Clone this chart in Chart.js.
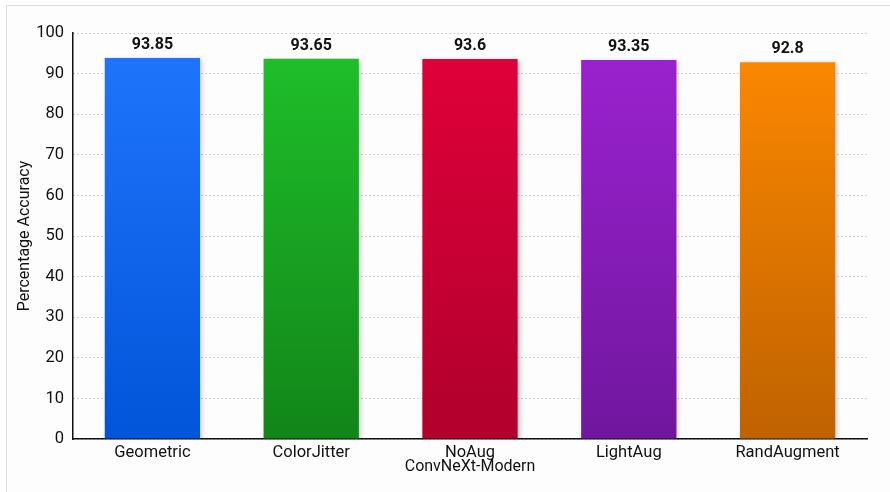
<!DOCTYPE html>
<html>
<head>
<meta charset="utf-8">
<script src="https://cdn.jsdelivr.net/npm/chart.js@4.4.1/dist/chart.umd.min.js"></script>
<style>
    html, body { margin: 0; padding: 0; background: #fff; }
    #wrap { position: relative; width: 890px; height: 492px; }
    #frame {
        position: absolute; left: 6px; top: 5px; right: 0; bottom: 0;
        border-left: 1px solid #dedede; border-top: 1px solid #dedede;
        background: #fdfdfd;
    }
    canvas { position: absolute; left: 0; top: 0; }
</style>
</head>
<body>
<div id="wrap">
    <div id="frame"></div>
    <canvas id="accChart" width="890" height="492"></canvas>
</div>
<script>
const categories = ["Geometric", "ColorJitter", "NoAug", "LightAug", "RandAugment"]
const accuracy = [93.85, 93.65, 93.6, 93.35, 92.8]
const topColors = ["#2176ff", "#1fc22b", "#e2003b", "#9d22d2", "#ff8a00"]
const bottomColors = ["#0055d8", "#128519", "#b0002b", "#70179e", "#bf6200"]
const yTicks = [0, 10, 20, 30, 40, 50, 60, 70, 80, 90, 100]

const fontFamily = "Roboto, 'Noto Sans', sans-serif"

const gradientFill = (context) => {
    const chart = context.chart
    const area = chart.chartArea
    const i = context.dataIndex
    if (!area) return topColors[i]
    const g = chart.ctx.createLinearGradient(0, area.top, 0, area.bottom)
    g.addColorStop(0, topColors[i])
    g.addColorStop(1, bottomColors[i])
    return g
}

// soft shadow behind the bars
const barShadow = {
    id: "barShadow",
    beforeDatasetDraw(chart) {
        const ctx = chart.ctx
        ctx.save()
        ctx.shadowColor = "rgba(0,0,0,0.22)"
        ctx.shadowBlur = 5
        ctx.shadowOffsetX = 2
        ctx.shadowOffsetY = 1
    },
    afterDatasetDraw(chart) {
        chart.ctx.restore()
    }
}

// value labels above each bar
const valueLabels = {
    id: "valueLabels",
    afterDatasetsDraw(chart) {
        const ctx = chart.ctx
        const meta = chart.getDatasetMeta(0)
        ctx.save()
        ctx.font = "bold 16px " + fontFamily
        ctx.fillStyle = "#111"
        ctx.textAlign = "center"
        ctx.textBaseline = "bottom"
        meta.data.forEach((bar, i) => {
            ctx.fillText(String(accuracy[i]), bar.x, bar.y - 5)
        })
        ctx.restore()
    }
}

const ctx = document.getElementById("accChart").getContext("2d")

new Chart(ctx, {
    type: "bar",
    data: {
        labels: categories,
        datasets: [{
            data: accuracy,
            backgroundColor: gradientFill,
            borderWidth: 0,
            barPercentage: 0.6,
            categoryPercentage: 1.0
        }]
    },
    options: {
        responsive: false,
        animation: false,
        layout: { padding: { top: 33, right: 23, left: 0, bottom: 0 } },
        plugins: {
            legend: { display: false },
            tooltip: { enabled: false }
        },
        scales: {
            x: {
                grid: { display: false, drawTicks: false },
                border: { color: "#111", width: 1.5 },
                ticks: {
                    color: "#111",
                    padding: 4,
                    font: { family: fontFamily, size: 16.5 }
                },
                title: {
                    display: true,
                    text: "ConvNeXt-Modern",
                    color: "#111",
                    font: { family: fontFamily, size: 16 },
                    padding: { top: 0, bottom: 15 }
                },
                afterFit(scale) { scale.height = 53 }
            },
            y: {
                min: 0,
                max: 100,
                afterBuildTicks(scale) {
                    scale.ticks = yTicks.map(v => ({ value: v }))
                },
                grid: {
                    color: "#c4c4c4",
                    lineWidth: 1,
                    drawTicks: false
                },
                border: { color: "#111", width: 1.5, dash: [1.5, 2.5] },
                ticks: {
                    color: "#111",
                    padding: 9,
                    font: { family: fontFamily, size: 16.5 }
                },
                title: {
                    display: true,
                    text: "Percentage Accuracy",
                    color: "#111",
                    font: { family: fontFamily, size: 16 },
                    padding: { top: 15, bottom: 0 }
                },
                afterFit(scale) { scale.width = 73 }
            }
        }
    },
    plugins: [barShadow, valueLabels]
})
</script>
</body>
</html>
